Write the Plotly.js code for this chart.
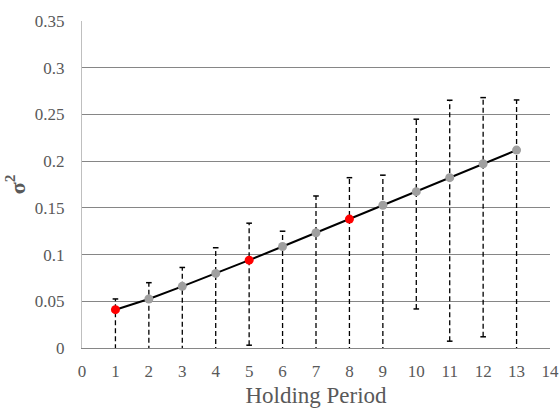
<!DOCTYPE html>
<html><head><meta charset="utf-8">
<script src="https://cdn.plot.ly/plotly-3.0.1.min.js"></script>
<style>html,body{margin:0;padding:0;background:#fff}</style>
</head><body>
<div id="chart" style="width:559px;height:412px"></div>
<script>
const periods = [1,2,3,4,5,6,7,8,9,10,11,12,13];
const variance = [0.041,0.0525,0.066,0.0798,0.094,0.1086,0.1233,0.138,0.1528,0.1673,0.1823,0.1972,0.2118];
const upperBound = [0.0525,0.0699,0.0862,0.1073,0.1336,0.125,0.1627,0.1823,0.185,0.2449,0.2652,0.268,0.2655];
const lowerBound = [-0.01,-0.02,-0.02,-0.03,0.003,-0.03,-0.03,-0.03,-0.03,0.0418,0.0073,0.012,-0.03];
const highlighted = [1,5,8];
const xTicks = [0,1,2,3,4,5,6,7,8,9,10,11,12,13,14];

const ex = [], ey = [];
periods.forEach((p,i)=>{ ex.push(p,p,null); ey.push(lowerBound[i],upperBound[i],null); });
const markerColors = periods.map(p => highlighted.includes(p) ? '#ff0000' : '#a0a0a0');

const traces = [
  {x: ex, y: ey, mode:'lines', line:{color:'#000', width:1.3, dash:'5px,3px'}, hoverinfo:'skip', showlegend:false},
  {x: periods, y: upperBound, mode:'markers', marker:{symbol:'line-ew', size:4, line:{color:'#000', width:1.5}}, showlegend:false},
  {x: periods.filter((p,i)=>lowerBound[i]>0), y: lowerBound.filter(v=>v>0), mode:'markers', marker:{symbol:'line-ew', size:4, line:{color:'#000', width:1.5}}, showlegend:false},
  {x: periods, y: variance, mode:'lines+markers', line:{color:'#000', width:2}, marker:{color:markerColors, size:9}, showlegend:false}
];

const fam = 'Liberation Serif';
const layout = {
  width:559, height:412,
  margin:{l:82, r:9, t:21, b:63.5},
  paper_bgcolor:'#fff', plot_bgcolor:'#fff',
  font: {family:fam, size:17, color:'#595959'},
  xaxis:{range:[0,14], tickvals:xTicks, ticktext:xTicks.map(String), showgrid:false, zeroline:false,
         showline:true, linecolor:'#868686', linewidth:1, ticks:'', ticklabelstandoff:8,
         tickfont:{family:fam, size:17, color:'#595959'},
         title:{text:'Holding Period', font:{family:fam, size:23, color:'#595959'}, standoff:6}},
  yaxis:{range:[0,0.35], dtick:0.05, showgrid:true, gridcolor:'#868686', gridwidth:1, zeroline:false,
         showline:true, linecolor:'#bfbfbf', linewidth:1, ticks:'', ticklabelstandoff:13,
         tickfont:{family:fam, size:17, color:'#595959'},
         title:{text:'<b>σ<sup>2</sup></b>', font:{family:fam, size:22, color:'#595959'}, standoff:3}}
};
Plotly.newPlot('chart', traces, layout, {displayModeBar:false, staticPlot:true});
</script>
</body></html>
